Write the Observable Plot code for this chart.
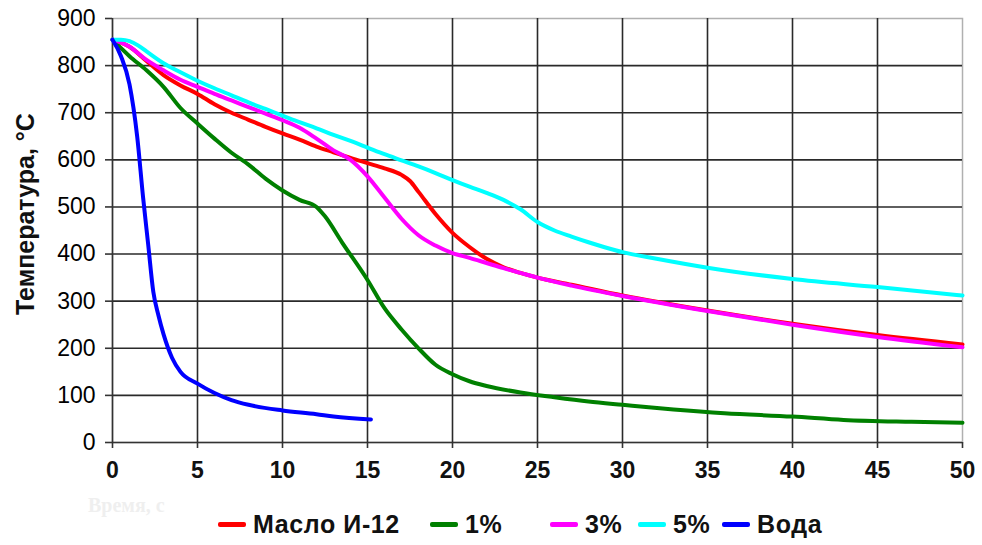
<!DOCTYPE html>
<html>
<head>
<meta charset="utf-8">
<script src="https://cdn.jsdelivr.net/npm/d3@7"></script>
<script src="https://cdn.jsdelivr.net/npm/@observablehq/plot@0.6"></script>
<style>
  html, body { margin: 0; padding: 0; background: #fff; }
  #wrap { position: relative; width: 982px; height: 545px; font-family: "Liberation Sans", Arial, sans-serif; }
  #ytitle { position: absolute; left: 25px; top: 214px; transform: translate(-50%, -50%) rotate(-90deg); font-weight: bold; font-size: 25px; color: #111; white-space: nowrap; }
  #xtitle { position: absolute; left: 88px; top: 494px; font-family: "Liberation Serif", serif; font-weight: bold; font-size: 20px; color: #efefef; white-space: nowrap; }
  .leg { position: absolute; top: 510px; height: 28px; display: flex; align-items: center; font-weight: bold; font-size: 25px; color: #111; white-space: nowrap; letter-spacing: 0.6px; }
  .sw { display: inline-block; width: 28px; height: 5px; border-radius: 2px; margin-right: 7px; }
</style>
</head>
<body>
<div id="wrap">
  <div id="chart"></div>
  <div id="ytitle">Температура, °C</div>
  <div id="xtitle">Время, с</div>
  <div id="legend"></div>
</div>
<script>
// Tick values
const xTicks = [0, 5, 10, 15, 20, 25, 30, 35, 40, 45, 50];
const yTicks = [0, 100, 200, 300, 400, 500, 600, 700, 800, 900];

// Series names and colours
const seriesNames = ["Масло И-12", "1%", "3%", "5%", "Вода"];
const seriesColors = ["#ff0000", "#008000", "#ff00ff", "#00ffff", "#0000ff"];

// [time, s ; temperature, °C]
const oil = [[0,855],[1,840],[2,810],[3,780],[4,758],[5,740],[6,718],[7,700],[8,685],[9,670],[10,656],[11,643],[12,628],[13,616],[14,604],[15,593],[16,582],[17,568],[17.5,555],[18,532],[19,485],[20,445],[21,415],[22,390],[23,372],[24,360],[25,350],[27,335],[30,312],[35,280],[40,252],[45,228],[50,208]];
const pct1 = [[0,855],[1,820],[2,790],[3,755],[4,710],[5,677],[6,645],[7,615],[8,590],[9,560],[10,535],[11,515],[12,500],[12.5,480],[13.5,425],[15,345],[16,285],[17,240],[18,200],[19,165],[20,145],[21,130],[22,120],[24,106],[26,96],[28,87],[30,80],[33,70],[36,62],[40,55],[43,48],[47,44],[50,42]];
const pct3 = [[0,855],[1,840],[2,812],[3,790],[4,770],[5,755],[6,740],[7,726],[8,712],[9,698],[10,684],[11,668],[12,645],[13,620],[14,600],[15,565],[16,520],[17,475],[18,440],[19,418],[20,402],[21,392],[22,381],[23,370],[24,360],[25,350],[27,333],[30,311],[35,279],[40,250],[45,224],[50,202]];
const pct5 = [[0,855],[0.5,855],[1,852],[1.5,843],[2,830],[3,805],[4,786],[5,768],[6,752],[7,737],[8,722],[9,708],[10,694],[11,680],[12,667],[13,653],[14,640],[15,626],[16,612],[17,599],[18,586],[19,572],[20,557],[21,543],[22,530],[23,515],[24,495],[25,468],[26,450],[27,437],[28,425],[29,414],[30,404],[32,390],[35,371],[40,347],[45,330],[50,312]];
const water = [[0,855],[0.5,820],[1,760],[1.45,650],[1.8,520],[2.1,420],[2.4,320],[2.7,270],[3.0,230],[3.5,180],[4,150],[5,125],[6,105],[7,90],[8,80],[10,68],[12,60],[13,55],[15.2,49]];

const seriesData = [oil, pct1, pct3, pct5, water];
const rows = seriesData.flatMap((arr, i) => arr.map(([t, v]) => ({t, v, s: seriesNames[i]})));

const chart = Plot.plot({
  width: 982,
  height: 492,
  marginLeft: 112,
  marginRight: 20,
  marginTop: 18,
  marginBottom: 50,
  style: {fontFamily: "'Liberation Sans', Arial, sans-serif", background: "#fff", color: "#111"},
  x: {domain: [0, 50]},
  y: {domain: [0, 900]},
  color: {domain: seriesNames, range: seriesColors},
  marks: [
    Plot.frame({stroke: "#b0b0b0", strokeWidth: 1.5}),
    Plot.ruleX(xTicks.filter(d => d > 0 && d < 50), {stroke: "#2a2a2a", strokeWidth: 1.6}),
    Plot.ruleY(yTicks.filter(d => d > 0 && d < 900), {stroke: "#2a2a2a", strokeWidth: 1.6}),
    Plot.ruleX([0], {stroke: "#333", strokeWidth: 1.6}),
    Plot.ruleY([0], {stroke: "#333", strokeWidth: 1.6}),
    Plot.axisX({ticks: xTicks, tickSize: 6, tickPadding: 13, fontSize: 23, fontWeight: "bold", stroke: "#333", strokeWidth: 1.6, fill: "#111", label: null}),
    Plot.axisY({ticks: yTicks, tickSize: 7, tickPadding: 10, fontSize: 23, stroke: "#333", strokeWidth: 1.6, fill: "#000", label: null}),
    Plot.line(rows, {x: "t", y: "v", z: "s", stroke: "s", strokeWidth: 4, curve: "monotone-x"})
  ]
});
document.getElementById("chart").appendChild(chart);

// Legend
const legLeft = [218, 430, 550, 638, 722];
const legend = document.getElementById("legend");
seriesNames.forEach((n, i) => {
  const d = document.createElement("div");
  d.className = "leg";
  d.style.left = legLeft[i] + "px";
  d.innerHTML = `<span class="sw" style="background:${seriesColors[i]}"></span><span>${n}</span>`;
  legend.appendChild(d);
});
</script>
</body>
</html>
